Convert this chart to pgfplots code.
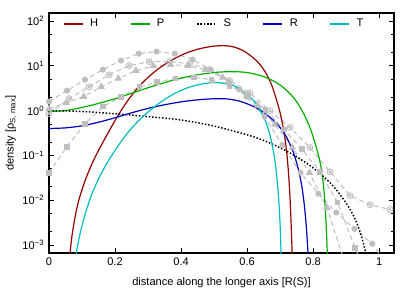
\documentclass[border=0pt]{standalone}
\usepackage{fontspec}
\setmainfont{Liberation Sans}
\usepackage{pgfplots}
\pgfplotsset{compat=1.18}
\definecolor{cH}{RGB}{150,0,0}
\definecolor{cP}{RGB}{0,176,0}
\definecolor{cR}{RGB}{0,0,190}
\definecolor{cT}{RGB}{0,190,190}
\definecolor{cG}{RGB}{190,190,190}
\pgfdeclareplotmark{odot}{%
  \pgfpathcircle{\pgfpoint{0pt}{0pt}}{\pgfplotmarksize}\pgfusepathqstroke
  \pgfpathcircle{\pgfpoint{0pt}{0pt}}{0.35\pgfplotmarksize}\pgfusepathqfillstroke}
\newcommand{\fs}{\fontsize{8.3}{10}\selectfont}
\begin{document}
\begin{tikzpicture}
\useasboundingbox (-36.75pt,-27.75pt) rectangle (274.5pt,189.75pt);
\begin{axis}[
  scale only axis, width=258.75pt, height=180pt,
  ymode=log, xmin=0, xmax=1.045, ymin=6.62e-4, ymax=151,
  xtick={0,0.2,0.4,0.6,0.8,1}, xticklabels={0,0.2,0.4,0.6,0.8,1},
  ytick={1e-3,1e-2,1e-1,1,10,100},
  yticklabels={10\textsuperscript{−3},10\textsuperscript{−2},10\textsuperscript{−1},10\textsuperscript{0},10\textsuperscript{1},10\textsuperscript{2}},
  minor ytick={2e-3,5e-3,2e-2,5e-2,0.2,0.5,2,5,20,50},
  tick align=inside, xtick pos=both, ytick pos=both,
  major tick length=4pt, minor tick length=2.2pt,
  axis line style={line width=0.8pt},
  every tick/.style={black, line width=0.6pt},
  tick label style={font=\fs},
  label style={font=\fs},
  xlabel={distance along the longer axis [R(S)]},
  ylabel={density [ρ\textsubscript{S, max}]},
  xlabel style={at={(axis description cs:0.5,-0.125)}, anchor=center},
  ylabel style={at={(axis description cs:-0.11,0.5)}, anchor=center},
  legend columns=5,
  legend style={draw=none, fill=none, inner sep=0pt, font=\fs,
    at={(axis description cs:0.0406,0.954)}, anchor=west,
    /tikz/every even column/.append style={column sep=22pt},
    /tikz/every odd column/.append style={column sep=3pt}},
  legend image code/.code={\draw[#1] (0pt,0pt) -- (14.25pt,0pt);},
]
% gray reference profiles
\addplot[cG, line width=0.75pt, dash pattern=on 3.5pt off 2.5pt, mark=*, mark size=1.9pt, mark options={solid, fill=cG, draw=cG}, forget plot] coordinates {
(0,1.59) (0.0544,2.79) (0.109,4.9) (0.163,8.2) (0.218,13.1) (0.272,18.7) (0.326,20.8) (0.381,18.7) (0.435,13.8) (0.49,8.2) (0.544,4.4) (0.598,2.05) (0.653,0.73) (0.707,0.17) (0.762,0.041) (0.816,0.014) (0.870,0.0053) (0.925,0.0023) (0.979,0.00107) (1.033,0.00028)};
\addplot[cG, line width=0.75pt, dash pattern=on 3.5pt off 2.5pt, mark=odot, mark size=2.2pt, mark options={solid, fill=cG, draw=cG, line width=0.7pt}, forget plot] coordinates {
(0,0.86) (0.0608,1.85) (0.1216,3.4) (0.182,6.3) (0.243,10.1) (0.304,12.4) (0.365,12.4) (0.426,11.2) (0.486,8.2) (0.547,4.7) (0.608,2.5) (0.669,1.0) (0.730,0.42) (0.790,0.15) (0.851,0.043) (0.912,0.0126) (0.973,0.0079) (1.033,0.0062)};
\addplot[cG, line width=0.75pt, dash pattern=on 3.5pt off 2.5pt, mark=triangle*, mark size=2.5pt, mark options={solid, fill=cG, draw=cG}, forget plot] coordinates {
(0,1.1) (0.0526,1.5) (0.105,2.05) (0.158,3.4) (0.21,5.2) (0.263,7.8) (0.316,10) (0.368,10.6) (0.421,10) (0.474,8.2) (0.526,5.5) (0.579,2.9) (0.632,1.3) (0.684,0.49) (0.737,0.15) (0.789,0.041) (0.842,0.0068) (0.895,0.00043)};
\addplot[cG, line width=0.75pt, dash pattern=on 3.5pt off 2.5pt, mark=square*, mark size=1.8pt, mark options={solid, fill=cG, draw=cG}, forget plot] coordinates {
(0,0.041) (0.0547,0.157) (0.109,0.51) (0.164,1.23) (0.219,2.05) (0.274,3.4) (0.328,4.4) (0.383,5.2) (0.438,5.5) (0.492,4.9) (0.547,3.6) (0.602,2.2) (0.656,1.05) (0.711,0.38) (0.766,0.14) (0.82,0.043) (0.874,0.0089) (0.927,0.00087) (0.98,0.0001)};
% model curves
\addplot[cH, line width=0.9pt, smooth] coordinates {
(0.062,5.05e-4) (0.068,1.29e-3) (0.075,2.89e-3) (0.085,6.93e-3) (0.095,0.0132) (0.11,0.0282) (0.13,0.0647) (0.15,0.129) (0.18,0.327) (0.21,0.802) (0.24,1.73) (0.27,3.29) (0.30,5.51) (0.33,8.43) (0.36,11.9) (0.39,15.8) (0.42,19.8) (0.45,23.4) (0.48,26.2) (0.50,27.5) (0.53,28.2) (0.56,26.3) (0.59,21.4) (0.62,14.8) (0.64,10.5) (0.66,6.31) (0.675,3.63) (0.69,1.66) (0.70,0.891) (0.71,0.398) (0.718,0.158) (0.724,0.0562) (0.729,0.0158) (0.733,3.55e-3) (0.737,5.0e-4)};
\addlegendentry{H}
\addplot[cP, line width=0.9pt, smooth] coordinates {
(0,0.955) (0.05,1.0) (0.1,1.175) (0.15,1.445) (0.2,1.84) (0.25,2.43) (0.3,3.24) (0.35,4.22) (0.4,5.31) (0.45,6.31) (0.5,7.08) (0.55,7.41) (0.6,7.08) (0.65,5.75) (0.69,4.17) (0.72,2.82) (0.745,1.78) (0.765,1.047) (0.78,0.631) (0.795,0.339) (0.808,0.166) (0.818,0.0891) (0.826,0.0447) (0.832,0.0191) (0.837,0.00631) (0.841,0.00158) (0.844,0.000398)};
\addlegendentry{P}
\addplot[black, line width=1.1pt, dash pattern=on 1.1pt off 1.4pt, smooth] coordinates {
(0,1) (0.1,0.955) (0.2,0.851) (0.3,0.733) (0.4,0.617) (0.5,0.452) (0.6,0.288) (0.65,0.216) (0.7,0.148) (0.75,0.0933) (0.8,0.0525) (0.85,0.0251) (0.88,0.0138) (0.91,0.0066) (0.93,0.00339) (0.945,0.0017) (0.957,0.000794) (0.965,0.000398)};
\addlegendentry{S}
\addplot[cR, line width=0.9pt, smooth] coordinates {
(0,0.398) (0.05,0.412) (0.1,0.457) (0.15,0.550) (0.2,0.692) (0.25,0.891) (0.3,1.122) (0.35,1.349) (0.4,1.567) (0.45,1.738) (0.5,1.841) (0.54,1.820) (0.58,1.603) (0.62,1.230) (0.65,0.912) (0.68,0.603) (0.70,0.417) (0.72,0.251) (0.74,0.1175) (0.755,0.0501) (0.766,0.020) (0.774,0.00708) (0.78,0.00224) (0.786,0.000447)};
\addlegendentry{R}
\addplot[cT, line width=0.9pt, smooth] coordinates {
(0.077,3.55e-4) (0.085,8.32e-4) (0.095,1.91e-3) (0.11,5.01e-3) (0.13,0.0138) (0.155,0.0355) (0.18,0.0759) (0.21,0.166) (0.24,0.331) (0.27,0.575) (0.30,0.933) (0.34,1.585) (0.38,2.40) (0.42,3.24) (0.46,3.89) (0.5,4.22) (0.54,3.98) (0.57,3.31) (0.6,2.34) (0.62,1.66) (0.64,1.0) (0.655,0.603) (0.667,0.331) (0.677,0.158) (0.685,0.0708) (0.691,0.0282) (0.696,0.01) (0.7,0.00282) (0.704,0.000398)};
\addlegendentry{T}
\end{axis}
\end{tikzpicture}
\end{document}
